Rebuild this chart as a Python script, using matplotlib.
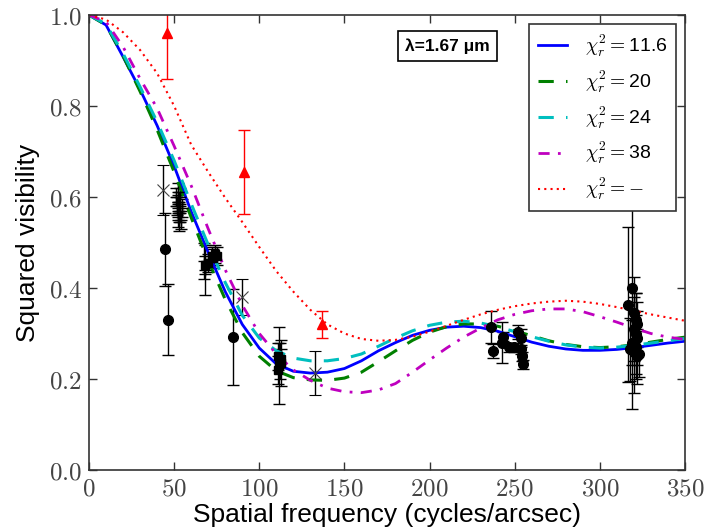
import numpy as np
import matplotlib
matplotlib.use("Agg")
import matplotlib.pyplot as plt
from matplotlib.ticker import FuncFormatter

plt.rcParams['mathtext.fontset'] = 'cm'
plt.rcParams['font.family'] = ['Liberation Sans', 'DejaVu Sans']

# ---- model curves ----
freq = [0, 10, 20, 30, 40, 50, 60, 70, 80, 90, 100, 110, 120, 130, 140, 150, 160, 170, 180,
        190, 200, 210, 220, 230, 240, 250, 260, 270, 280, 290, 300, 310, 320, 330, 340, 350]
v_116 = [1.000, 0.978, 0.908, 0.836, 0.757, 0.668, 0.568, 0.478, 0.392, 0.320, 0.268, 0.233,
         0.217, 0.213, 0.215, 0.223, 0.240, 0.262, 0.280, 0.296, 0.307, 0.314, 0.316, 0.313,
         0.305, 0.293, 0.281, 0.272, 0.266, 0.263, 0.263, 0.265, 0.269, 0.274, 0.279, 0.283]
v_20 = [1.000, 0.978, 0.910, 0.832, 0.748, 0.655, 0.555, 0.460, 0.375, 0.302, 0.250, 0.218,
        0.203, 0.198, 0.197, 0.202, 0.215, 0.238, 0.262, 0.285, 0.303, 0.315, 0.321, 0.321,
        0.316, 0.306, 0.295, 0.284, 0.276, 0.271, 0.269, 0.271, 0.275, 0.281, 0.287, 0.292]
v_24 = [1.000, 0.980, 0.915, 0.842, 0.765, 0.680, 0.585, 0.495, 0.412, 0.340, 0.290, 0.262,
        0.246, 0.240, 0.240, 0.245, 0.255, 0.272, 0.290, 0.306, 0.318, 0.325, 0.327, 0.323,
        0.315, 0.304, 0.293, 0.283, 0.275, 0.270, 0.268, 0.270, 0.274, 0.279, 0.284, 0.289]
v_38 = [1.000, 0.985, 0.930, 0.860, 0.795, 0.712, 0.625, 0.530, 0.440, 0.362, 0.300, 0.255,
        0.220, 0.197, 0.180, 0.172, 0.170, 0.176, 0.190, 0.215, 0.242, 0.268, 0.292, 0.312,
        0.330, 0.342, 0.350, 0.354, 0.354, 0.348, 0.337, 0.325, 0.312, 0.300, 0.292, 0.287]
v_none = [1.000, 0.990, 0.962, 0.923, 0.872, 0.800, 0.715, 0.655, 0.598, 0.545, 0.490, 0.437,
          0.392, 0.352, 0.320, 0.300, 0.288, 0.284, 0.286, 0.293, 0.304, 0.317, 0.330, 0.342,
          0.352, 0.360, 0.366, 0.370, 0.372, 0.370, 0.365, 0.358, 0.350, 0.342, 0.335, 0.328]

# ---- observations ----
circ_x = [44.7, 46.5, 84.7, 236, 237, 242.5, 243, 246.6, 249.6, 252, 253.5, 253.5, 254, 254.7,
          316.3, 319, 320, 321, 322, 320, 321, 322, 319, 321, 320, 322, 318, 323]
circ_y = [0.485, 0.33, 0.292, 0.315, 0.262, 0.28, 0.293, 0.27, 0.27, 0.303, 0.29, 0.265, 0.25, 0.232,
          0.363, 0.40, 0.345, 0.33, 0.32, 0.31, 0.30, 0.29, 0.28, 0.27, 0.26, 0.25, 0.265, 0.255]
circ_e = [0.08, 0.078, 0.105, 0.035, 0.015, 0.045, 0.01, 0.01, 0.01, 0.015, 0.02, 0.01, 0.01, 0.01,
          0.17, 0.265, 0.08, 0.06, 0.05, 0.07, 0.09, 0.06, 0.05, 0.07, 0.09, 0.06, 0.07, 0.05]

cross_x = [43.5, 90, 133]
cross_y = [0.615, 0.38, 0.213]
cross_e = [0.055, 0.04, 0.048]

plus_x = [51, 51.5, 52, 52.5, 53, 53.5, 54, 52, 53, 54.5, 52.5, 53.5, 68, 67.5]
plus_y = [0.60, 0.58, 0.57, 0.555, 0.59, 0.565, 0.55, 0.61, 0.545, 0.575, 0.585, 0.60, 0.44, 0.46]
plus_e = [0.02, 0.02, 0.02, 0.02, 0.02, 0.02, 0.02, 0.02, 0.02, 0.02, 0.02, 0.02, 0.055, 0.04]

sq_x = [72, 73, 74, 75, 70, 68, 111, 112, 112.5, 111.5, 113, 111]
sq_y = [0.47, 0.465, 0.475, 0.47, 0.455, 0.45, 0.25, 0.24, 0.235, 0.23, 0.245, 0.22]
sq_e = [0.02, 0.02, 0.02, 0.02, 0.02, 0.02, 0.03, 0.04, 0.05, 0.085, 0.02, 0.03]

tri_x = [46, 91.2, 137]
tri_y = [0.96, 0.655, 0.32]
tri_e = [0.10, 0.092, 0.03]

legend_labels = ['11.6', '20', '24', '38', '-']

fig = plt.figure(figsize=(7.15, 5.3), dpi=100)
ax = fig.add_axes([0.1245, 0.1132, 0.8335, 0.8585])

ebkw = dict(ecolor='black', elinewidth=1, capsize=4, capthick=1, linestyle='none')
ax.errorbar(circ_x, circ_y, yerr=circ_e, fmt='o', color='black', ms=7, **ebkw)
ax.errorbar(sq_x, sq_y, yerr=sq_e, fmt='s', color='black', ms=6, **ebkw)
ax.errorbar(plus_x, plus_y, yerr=plus_e, fmt='+', color='black', ms=8, **ebkw)
ax.errorbar(cross_x, cross_y, yerr=cross_e, fmt='x', color='#444444', ms=8, mew=0.8, **ebkw)
ax.errorbar(tri_x, tri_y, yerr=tri_e, fmt='^', color='red', ms=7, ecolor='red',
            elinewidth=1, capsize=4, capthick=1, linestyle='none')

lines = [
    (v_116, dict(color='blue', ls='-', lw=2)),
    (v_20, dict(color='green', ls=(0, (5, 4)), lw=2.2)),
    (v_24, dict(color='#00bfbf', ls=(0, (5, 4)), lw=2.2)),
    (v_38, dict(color='#bf00bf', ls=(0, (4, 3, 1, 3)), lw=2)),
    (v_none, dict(color='red', ls=(0, (1, 2)), lw=1.5)),
]
for (vals, st), lab in zip(lines, legend_labels):
    if lab == '-':
        label = r'$\chi^2_r=-$'
    else:
        label = r'$\chi^2_r=$' + lab
    ax.plot(freq, vals, label=label, **st)

ax.set_xlim(0, 350)
ax.set_ylim(0, 1.0)
ax.set_xticks([0, 50, 100, 150, 200, 250, 300, 350])
ax.set_yticks([0.0, 0.2, 0.4, 0.6, 0.8, 1.0])
ax.xaxis.set_major_formatter(FuncFormatter(lambda v, p: r'$%d$' % v))
ax.yaxis.set_major_formatter(FuncFormatter(lambda v, p: r'$%.1f$' % v))
ax.tick_params(direction='in', top=True, right=True, length=6, width=1,
               labelsize=18, colors='#333333', pad=5)
for tl in ax.get_xticklabels() + ax.get_yticklabels():
    tl.set_color('#444444')
for s in ax.spines.values():
    s.set_color('#333333')
    s.set_linewidth(1.2)

ax.set_xlabel('Spatial frequency (cycles/arcsec)', fontsize=19, labelpad=1.5)
ax.set_ylabel('Squared visibility', fontsize=19, labelpad=6)

leg = ax.legend(loc='upper right', fontsize=14, frameon=True, fancybox=False, framealpha=1,
                handlelength=1.5, handletextpad=0.9, borderpad=0.45, labelspacing=0.5,
                borderaxespad=0.45)
leg.get_frame().set_edgecolor('#333333')
leg.get_frame().set_linewidth(1.2)

ax.text(0.601, 0.932, 'λ=1.67 μm', transform=ax.transAxes, ha='center', va='center',
        fontsize=12.5, fontweight='bold',
        bbox=dict(boxstyle='square,pad=0.4', fc='white', ec='black', lw=1.2))

fig.savefig('out.png', dpi=100)
